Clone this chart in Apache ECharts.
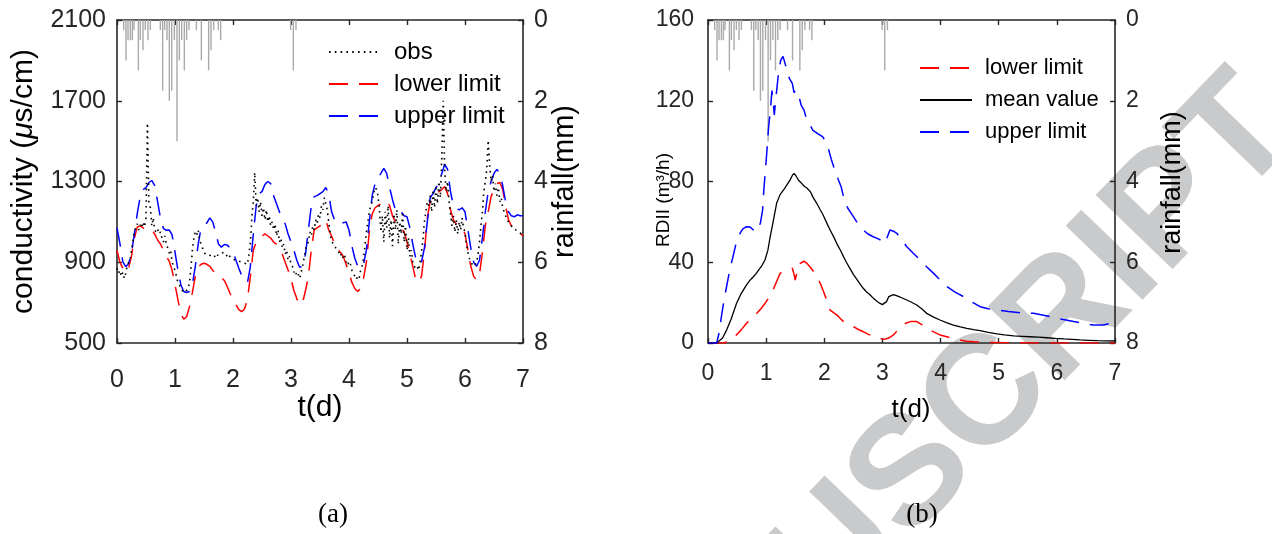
<!DOCTYPE html>
<html>
<head>
<meta charset="utf-8">
<script src="https://cdn.jsdelivr.net/npm/echarts@6/dist/echarts.min.js"></script>
<style>
  html, body { margin: 0; padding: 0; background: #fff; }
  #chart { width: 1272px; height: 534px; }
</style>
</head>
<body>
<div id="chart"></div>
<script>
// ---------- (a) conductivity, sampled every 0.05 d (limits) and 0.025 d (obs) ----------
const LIMIT_STEP = 0.05;
const condUpper = [
  1070, 993, 903, 878, 893, 944, 1043, 1142, 1225, 1260, 1270, 1295, 1305, 1280, 1200, 1117, 1068, 1058, 1060, 1035,
  950, 861, 790, 755, 750, 755, 790, 880, 990, 1070, 1085, 1095, 1120, 1100, 1050, 990, 975, 988, 985, 972,
  950, 911, 870, 835, 810, 800, 880, 1040, 1180, 1240, 1250, 1285, 1300, 1290, 1230, 1190, 1150, 1110, 1090, 1040,
  1000, 960, 910, 875, 880, 940, 1060, 1180, 1225, 1230, 1240, 1250, 1270, 1240, 1150, 1110, 1100, 1110, 1095, 1100,
  1060, 980, 920, 880, 870, 890, 960, 1100, 1230, 1290, 1320, 1340, 1365, 1340, 1270, 1210, 1160, 1140, 1150, 1130,
  1125, 1070, 990, 920, 890, 900, 970, 1100, 1220, 1240, 1270, 1290, 1340, 1385, 1360, 1250, 1180, 1165, 1160, 1170,
  1150, 1060, 970, 900, 880, 910, 1020, 1150, 1250, 1300, 1340, 1360, 1340, 1280, 1200, 1150, 1130, 1125, 1135, 1130,
  1130
];
const condLower = [
  960, 900, 870, 850, 870, 930, 1020, 1075, 1080, 1070, 1065, 1070, 1060, 1040, 1010, 990, 960, 930, 905, 860,
  790, 715, 645, 618, 630, 680, 750, 830, 875, 890, 895, 890, 880, 860, 845, 830, 825, 810, 780, 745,
  715, 690, 665, 655, 670, 720, 830, 960, 1000, 1020, 1030, 1040, 1030, 1020, 1000, 990, 965, 940, 900, 860,
  820, 760, 720, 690, 700, 760, 830, 960, 1060, 1070, 1080, 1095, 1110, 1060, 1030, 990, 965, 950, 930, 890,
  850, 800, 770, 755, 770, 820, 900, 1050, 1140, 1170, 1180, 1190, 1200, 1205, 1180, 1130, 1100, 1085, 1070, 1050,
  1000, 940, 880, 815, 800, 830, 950, 1120, 1200, 1210, 1230, 1250, 1260, 1275, 1240, 1160, 1110, 1090, 1085, 1075,
  1040, 960, 880, 830, 812, 840, 950, 1080, 1150, 1225, 1260, 1290, 1295, 1260, 1180, 1110, 1080, 1070, 1060, 1045,
  1030
];
const OBS_STEP = 0.025;
const condObs = [
  870, 845, 860, 830, 850, 820, 845, 880, 900, 910, 960, 1000, 1050, 1075, 1090, 1060, 1085, 1070, 1100, 1075,
  1120, 1590, 1200, 1170, 1080, 1120, 1060, 1050, 1065, 1040, 1050, 1020, 1000, 1030, 990, 970, 945, 960, 900, 880,
  860, 830, 800, 790, 770, 760, 765, 750, 760, 770, 800, 870, 960, 1020, 1050, 1035, 1060, 1010, 990, 970,
  950, 940, 945, 940, 935, 930, 925, 935, 920, 930, 940, 935, 945, 940, 950, 945, 930, 940, 925, 920,
  915, 920, 910, 915, 905, 910, 900, 905, 895, 900, 890, 940, 1000, 1120, 1200, 1345, 1180, 1220, 1150, 1200,
  1130, 1170, 1110, 1160, 1100, 1130, 1080, 1100, 1060, 1090, 1030, 1060, 1000, 1020, 970, 990, 940, 960, 910, 930,
  890, 880, 850, 860, 830, 840, 820, 850, 880, 920, 960, 990, 1000, 1050, 1030, 1080, 1060, 1110, 1090, 1140,
  1120, 1180, 1160, 1220, 1190, 1160, 1100, 1040, 1010, 990, 980, 970, 960, 950, 930, 945, 920, 935, 900, 910,
  880, 890, 860, 850, 830, 815, 830, 820, 860, 880, 920, 980, 1050, 1100, 1150, 1180, 1200, 1240, 1270, 1260,
  1230, 1160, 1050, 1130, 1000, 1150, 1070, 1180, 1020, 1110, 980, 1140, 1060, 1160, 990, 1100, 1040, 1150, 1000, 1080,
  960, 1020, 930, 960, 900, 880, 870, 880, 860, 900, 950, 1010, 1100, 1150, 1200, 1180, 1230, 1150, 1260, 1170,
  1280, 1190, 1300, 1220, 1420, 1700, 1350, 1250, 1300, 1200, 1140, 1080, 1130, 1050, 1110, 1040, 1100, 1060, 1120, 1070,
  1050, 990, 950, 920, 900, 890, 880, 885, 900, 940, 1000, 1080, 1150, 1250, 1300, 1360, 1505, 1380, 1300, 1330,
  1250, 1290, 1230, 1270, 1200, 1220, 1170, 1150, 1130, 1110, 1100, 1090, 1080, 1070, 1075, 1060, 1065, 1050, 1045, 1040,
  1030
];
const condTicks = [500, 900, 1300, 1700, 2100];

// ---------- hourly rainfall (mm), time in days ----------
const rainT = [0.115, 0.155, 0.19, 0.23, 0.265, 0.293, 0.368, 0.402, 0.448, 0.488, 0.534, 0.575,
  0.747, 0.787, 0.822, 0.862, 0.902, 0.943, 0.989, 1.034, 1.075, 1.115, 1.161, 1.201, 1.241,
  1.368, 1.454, 1.580, 1.621, 1.667, 1.747, 1.787, 2.994, 3.040, 3.086];
const rainMm = [0.25, 1.0, 0.5, 0.5, 0.5, 0.25, 1.25, 0.5, 0.75, 0.25, 0.5, 0.25,
  0.25, 1.75, 0.25, 0.5, 2.0, 1.75, 0.5, 3.0, 1.0, 0.5, 1.25, 0.5, 0.25,
  0.25, 1.0, 1.25, 0.75, 0.25, 0.25, 0.5, 0.25, 1.25, 0.25];

// ---------- (b) RDII (m3/h) ----------
const rdiiMeanT = [0, 0.15, 0.25, 0.32, 0.40, 0.49, 0.57, 0.66, 0.72, 0.78, 0.83, 0.87, 0.93, 0.98, 1.03, 1.07, 1.12,
  1.18, 1.24, 1.30, 1.36, 1.41, 1.45, 1.48, 1.52, 1.56, 1.61, 1.66, 1.70, 1.76, 1.80, 1.87, 1.93, 1.98, 2.05, 2.10,
  2.16, 2.22, 2.28, 2.33, 2.38, 2.44, 2.50, 2.56, 2.62, 2.67, 2.72, 2.79, 2.85, 2.91, 2.96, 3.00, 3.03, 3.07, 3.11,
  3.15, 3.19, 3.22, 3.30, 3.42, 3.50, 3.59, 3.68, 3.76, 3.88, 3.99, 4.10, 4.22, 4.34, 4.45, 4.57, 4.68, 4.82, 4.97,
  5.10, 5.26, 5.40, 5.54, 5.68, 5.83, 5.97, 6.12, 6.26, 6.40, 6.55, 6.70, 6.85, 7.00];
const rdiiMean = [0, 0, 2.5, 6.4, 12, 19.6, 24.5, 28.7, 31, 32.8, 34.5, 36.1, 38.5, 41.1, 46, 52.7, 60,
  69.2, 73.5, 75.8, 78.5, 80.7, 83, 84, 82.5, 80.5, 79.1, 77.5, 76.8, 75, 72.5, 69.2, 66, 63.4, 59, 56,
  52.7, 49, 45.8, 42.8, 40, 37, 34, 31.5, 29, 27.1, 25.5, 23.8, 22, 20.6, 19.6, 19, 18.3, 20.5, 23,
  23.5, 24, 23.8, 22.8, 21.3, 20.2, 18.8, 16.8, 14.7, 12.8, 11.4, 10.1, 8.9, 8, 7.3, 6.6, 6.1, 5.3, 4.5,
  4.0, 3.5, 3.3, 3.1, 2.9, 2.6, 2.3, 2.0, 1.8, 1.5, 1.35, 1.2, 1.1, 1.0];
const rdiiUpperT = [0, 0.15, 0.19, 0.23, 0.28, 0.34, 0.38, 0.43, 0.48, 0.55, 0.60, 0.66, 0.72, 0.78, 0.84, 0.87, 0.90,
  0.94, 0.96, 1.00, 1.04, 1.08, 1.10, 1.12, 1.14, 1.17, 1.21, 1.25, 1.29, 1.33, 1.36, 1.40, 1.45, 1.48, 1.51, 1.55,
  1.60, 1.65, 1.70, 1.74, 1.80, 1.83, 1.90, 1.97, 2.02, 2.06, 2.12, 2.18, 2.24, 2.29, 2.33, 2.40, 2.50, 2.58, 2.67,
  2.75, 2.85, 2.91, 2.97, 3.05, 3.09, 3.13, 3.18, 3.25, 3.33, 3.42, 3.53, 3.65, 3.76, 3.88, 4.00, 4.11, 4.25, 4.40,
  4.54, 4.68, 4.82, 4.97, 5.17, 5.37, 5.60, 5.77, 5.94, 6.11, 6.29, 6.46, 6.63, 6.80, 6.90, 7.00];
const rdiiUpper = [0, 0, 5, 13, 22, 31, 37, 42.8, 49, 54.3, 56.5, 57.6, 57.5, 56, 55.1, 56, 59.3,
  66, 75.8, 90, 106, 118, 125, 120, 113, 122, 133, 140, 142, 138, 135.2, 131, 128.6, 124, 125.3, 124,
  118, 115.4, 110.5, 108.8, 105.5, 104.7, 103.5, 102.2, 100, 97.3, 91, 85.7, 81, 77.4, 72.5, 67, 62.6, 59, 56,
  54, 52.5, 51.8, 51, 49.4, 53, 56, 55.5, 54.3, 51, 47.7, 44.5, 41.1, 37.8, 34.5, 31, 27.9, 25.2, 22.9,
  20.3, 18, 17, 16.4, 15.6, 15, 14.7, 13.7, 12.7, 11.6, 10.6, 9.7, 8.9, 8.9, 9.6, 10.6];
const rdiiLowerT = [0, 0.28, 0.35, 0.42, 0.49, 0.57, 0.66, 0.75, 0.84, 0.91, 0.98, 1.05, 1.12, 1.18, 1.24, 1.30,
  1.36, 1.41, 1.45, 1.48, 1.50, 1.53, 1.56, 1.59, 1.65, 1.70, 1.76, 1.82, 1.88, 1.93, 1.98, 2.02, 2.06, 2.10,
  2.16, 2.22, 2.28, 2.33, 2.42, 2.50, 2.58, 2.67, 2.76, 2.85, 2.93, 3.02, 3.10, 3.19, 3.25, 3.31, 3.40, 3.48,
  3.59, 3.67, 3.76, 3.88, 3.99, 4.14, 4.28, 4.45, 4.57, 4.80, 5.20, 5.60, 6.00, 7.00];
const rdiiLower = [0, 0, 1, 2.5, 4, 6.5, 9.7, 12, 14.7, 17, 19.6, 22.5, 26.2, 30.5, 34.5, 35.5,
  36.1, 36.8, 37, 34, 31.2, 35, 39, 39.5, 40.5, 39.5, 37.5, 35.3, 32.5, 29.6, 26, 22.9, 19.5, 16.3,
  15, 13.8, 12, 10.6, 9.3, 8.1, 6.8, 5.6, 4.3, 3.1, 2.3, 1.8, 2.3, 4, 6, 8.1, 9.8, 10.6,
  10.6, 9.2, 7.3, 5.5, 4, 2.8, 1.8, 0.9, 0.6, 0.3, 0.15, 0.05, 0, 0];

const tTicks = [0, 7, 1];     // min, max, interval (d)
const rainAxis = [0, 8, 2];   // mm, drawn downward from the top
const rdiiAxis = [0, 160, 40];

// ---------- helpers ----------
const SANS = '"Liberation Sans", Arial, Helvetica, sans-serif';
const SERIF = '"Liberation Serif", "Times New Roman", serif';
const INK = '#262626';
const plain = v => String(v);
const stepped = (vals, step) => vals.map((v, i) => [+(i * step).toFixed(3), v]);
const paired = (ts, vals) => ts.map((t, i) => [t, vals[i]]);
const DASH = [19, 11];

function xAxes(gridIndex, fontSize, margin) {
  const common = {
    type: 'value', gridIndex, min: tTicks[0], max: tTicks[1], interval: tTicks[2],
    axisLine: { show: true, onZero: false, lineStyle: { color: INK, width: 1.6 } },
    axisTick: { show: true, inside: true, length: 5, lineStyle: { color: INK, width: 1.4 } },
    splitLine: { show: false }
  };
  return [
    Object.assign({}, common, { position: 'bottom',
      axisLabel: { fontSize, fontFamily: SANS, color: INK, margin, formatter: plain } }),
    Object.assign({}, common, { position: 'top', axisLabel: { show: false } })
  ];
}
function rainYAxis(gridIndex, fontSize) {
  return {
    type: 'value', gridIndex, position: 'right', inverse: true,
    min: rainAxis[0], max: rainAxis[1], interval: rainAxis[2],
    axisLine: { show: true, onZero: false, lineStyle: { color: INK, width: 1.6 } },
    axisTick: { show: true, inside: true, length: 5, lineStyle: { color: INK, width: 1.4 } },
    axisLabel: { fontSize, fontFamily: SANS, color: INK, margin: 11, formatter: plain },
    splitLine: { show: false }
  };
}
function rainSeries(xi, yi) {
  return {
    type: 'bar', name: 'rainfall', xAxisIndex: xi, yAxisIndex: yi,
    data: paired(rainT, rainMm), barWidth: 1.4, z: 1,
    itemStyle: { color: '#a9a9a9' }, silent: true
  };
}
function limitLine(name, color, xi, yi, data) {
  return {
    type: 'line', name, xAxisIndex: xi, yAxisIndex: yi, data,
    symbol: 'none', showSymbol: false, z: 3,
    lineStyle: { color, width: 1.5, type: DASH }, itemStyle: { color }
  };
}
function legendBox(left, top, gap, fontSize, names) {
  return {
    orient: 'vertical', left, top, padding: 0, itemWidth: 52, itemHeight: 14, itemGap: gap,
    selectedMode: false, data: names,
    itemStyle: { opacity: 0 },
    textStyle: { fontSize, fontFamily: SANS, color: '#000', padding: [0, 0, 0, 8] }
  };
}
function label(text, x, y, fontSize, opts) {
  return Object.assign({ type: 'text', x, y, silent: true,
    style: Object.assign({ text, fontSize, fontFamily: SANS, fill: '#000',
      textAlign: 'center', textVerticalAlign: 'middle' }, (opts && opts.style) || {}) },
    opts && opts.rotation ? { rotation: opts.rotation } : {});
}
const UP = Math.PI / 2;

const chart = echarts.init(document.getElementById('chart'), null, { renderer: 'canvas' });

chart.setOption({
  animation: false,
  backgroundColor: '#ffffff',
  grid: [
    { left: 117, top: 20, width: 406, height: 323 },
    { left: 708, top: 20, width: 407, height: 323 }
  ],
  xAxis: [].concat(xAxes(0, 25, 25), xAxes(1, 23, 19)),
  yAxis: [
    {
      type: 'value', gridIndex: 0, position: 'left', min: 500, max: 2100,
      axisLine: { show: true, onZero: false, lineStyle: { color: INK, width: 1.6 } },
      axisTick: { show: true, inside: true, length: 5, customValues: condTicks, lineStyle: { color: INK, width: 1.4 } },
      axisLabel: { fontSize: 25, fontFamily: SANS, color: INK, margin: 11, customValues: condTicks, formatter: plain },
      splitLine: { show: false }
    },
    rainYAxis(0, 25),
    {
      type: 'value', gridIndex: 1, position: 'left',
      min: rdiiAxis[0], max: rdiiAxis[1], interval: rdiiAxis[2],
      axisLine: { show: true, onZero: false, lineStyle: { color: INK, width: 1.6 } },
      axisTick: { show: true, inside: true, length: 5, lineStyle: { color: INK, width: 1.4 } },
      axisLabel: { fontSize: 23, fontFamily: SANS, color: INK, margin: 14, formatter: plain },
      splitLine: { show: false }
    },
    rainYAxis(1, 23)
  ],
  legend: [
    legendBox(328, 40, 8, 24, ['obs', 'lower limit', 'upper limit']),
    legendBox(919, 57, 10, 22, ['lower limit', 'mean value', 'upper limit'])
  ],
  series: [
    rainSeries(0, 1),
    {
      type: 'line', name: 'obs', xAxisIndex: 0, yAxisIndex: 0, data: stepped(condObs, OBS_STEP),
      symbol: 'none', showSymbol: false, z: 4,
      lineStyle: { color: '#000', width: 1.6, type: [1.6, 4.2] }, itemStyle: { color: '#000' }
    },
    limitLine('lower limit', '#ff0000', 0, 0, stepped(condLower, LIMIT_STEP)),
    limitLine('upper limit', '#0000ff', 0, 0, stepped(condUpper, LIMIT_STEP)),

    rainSeries(2, 3),
    limitLine('lower limit', '#ff0000', 2, 2, paired(rdiiLowerT, rdiiLower)),
    {
      type: 'line', name: 'mean value', xAxisIndex: 2, yAxisIndex: 2, data: paired(rdiiMeanT, rdiiMean),
      symbol: 'none', showSymbol: false, z: 3,
      lineStyle: { color: '#000', width: 1.3 }, itemStyle: { color: '#000' }
    },
    limitLine('upper limit', '#0000ff', 2, 2, paired(rdiiUpperT, rdiiUpper))
  ],
  graphic: [
    {
      type: 'text', x: 602, y: 798, rotation: 46 * Math.PI / 180, z: -10, silent: true,
      style: { text: 'ACCEPTED MANUSCRIPT', font: 'bold 155px "Liberation Sans", Arial, sans-serif',
        fill: '#c9cacc', textAlign: 'center', textVerticalAlign: 'middle' }
    },
    // axis titles
    label('conductivity ({mu|μ}s/cm)', 24, 181.5, 30, { rotation: UP,
      style: { rich: { mu: { fontStyle: 'italic', fontSize: 30, fontFamily: SANS } } } }),
    label('t(d)', 320, 408, 30),
    label('rainfall(mm)', 565, 181.5, 29, { rotation: UP }),
    label('RDII (m³/h)', 664, 200, 19, { rotation: UP }),
    label('t(d)', 911, 410, 26),
    label('rainfall(mm)', 1173, 182.5, 27, { rotation: UP }),
    // panel captions
    label('(a)', 333, 515, 27, { style: { fontFamily: SERIF } }),
    label('(b)', 922, 515, 27, { style: { fontFamily: SERIF } })
  ]
});
</script>
</body>
</html>
